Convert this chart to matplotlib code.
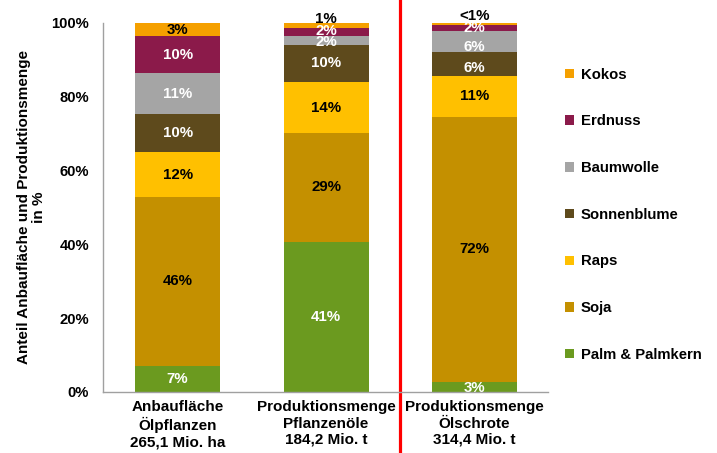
import numpy as np
import matplotlib.pyplot as plt
from matplotlib.patches import Patch

plt.rcParams['font.family'] = ['Liberation Sans', 'DejaVu Sans']
plt.rcParams['font.weight'] = 'bold'

# Kategorien (x-Achse)
kategorien = ['Anbaufläche\nÖlpflanzen\n265,1 Mio. ha',
              'Produktionsmenge\nPflanzenöle\n184,2 Mio. t',
              'Produktionsmenge\nÖlschrote\n314,4 Mio. t']

# Anteile in % (von unten nach oben gestapelt), aus dem Bild geschätzt
palm = [7.1, 40.7, 2.8]
soja = [45.7, 29.4, 71.7]
raps = [12.2, 13.8, 11.1]
sonnenblume = [10.2, 10.2, 6.4]
baumwolle = [11.2, 2.4, 5.8]
erdnuss = [10.0, 2.2, 1.7]
kokos = [3.5, 1.3, 0.5]

# Beschriftungen wie im Original
lab_palm = ['7%', '41%', '3%']
lab_soja = ['46%', '29%', '72%']
lab_raps = ['12%', '14%', '11%']
lab_sonnenblume = ['10%', '10%', '6%']
lab_baumwolle = ['11%', '2%', '6%']
lab_erdnuss = ['10%', '2%', '2%']
lab_kokos = ['3%', '1%', '<1%']

serien = [
    ('Palm & Palmkern', palm, lab_palm, '#6b9a1f', 'white'),
    ('Soja', soja, lab_soja, '#c49000', 'black'),
    ('Raps', raps, lab_raps, '#ffc000', 'black'),
    ('Sonnenblume', sonnenblume, lab_sonnenblume, '#5e4a1c', 'white'),
    ('Baumwolle', baumwolle, lab_baumwolle, '#a5a5a5', 'white'),
    ('Erdnuss', erdnuss, lab_erdnuss, '#8b1a4a', 'white'),
    ('Kokos', kokos, lab_kokos, '#f5a000', 'black'),
]

# kleine Verschiebungen der Beschriftungen in den dünnen Segmenten (in %-Punkten)
verschiebung = {('Kokos', 1): 1.8, ('Kokos', 2): 2.2,
                ('Baumwolle', 2): -1.5, ('Sonnenblume', 2): -1.0,
                ('Erdnuss', 1): 0.3, ('Baumwolle', 1): -0.6,
                ('Palm & Palmkern', 2): -0.3}

fig = plt.figure(figsize=(7.17, 4.53), dpi=100)
ax = fig.add_axes([0.1437, 0.1347, 0.6206, 0.815])

x = np.arange(len(kategorien))
unten = np.zeros(len(kategorien))
handles = []
for name, werte, labels, farbe, textfarbe in serien:
    werte = np.array(werte)
    ax.bar(x, werte, bottom=unten, width=0.572, color=farbe, edgecolor='none')
    for i in range(len(x)):
        y = unten[i] + werte[i] / 2 + verschiebung.get((name, i), 0)
        ax.text(x[i], y, labels[i], ha='center', va='center',
                fontsize=10.8, fontweight='bold', color=textfarbe)
    unten += werte
    handles.append(Patch(facecolor=farbe, label=name))

ax.set_xlim(-0.502, 2.495)
ax.set_ylim(0, 100)
ax.set_yticks([0, 20, 40, 60, 80, 100])
ax.set_yticklabels(['0%', '20%', '40%', '60%', '80%', '100%'])
ax.set_xticks(x)
ax.set_xticklabels(kategorien, fontsize=11, linespacing=1.2)
ax.tick_params(axis='y', length=0, pad=10, labelsize=10.6)
ax.tick_params(axis='x', length=0, pad=6)
ax.set_ylabel('Anteil Anbaufläche und Produktionsmenge\nin %', fontsize=11,
              fontweight='bold', labelpad=4, linespacing=1.05)

for s in ['top', 'right']:
    ax.spines[s].set_visible(False)
for s in ['left', 'bottom']:
    ax.spines[s].set_color('#a0a0a0')
    ax.spines[s].set_linewidth(1.0)

# rote Trennlinie
ax.axvline(1.5, ymin=-0.17, ymax=1.07, color='red', linewidth=2.3, clip_on=False)

fig.legend(handles=handles[::-1], loc='upper left', bbox_to_anchor=(0.778, 0.867),
           frameon=False, fontsize=10.7, handlelength=0.6, handleheight=0.6,
           handletextpad=0.45, labelspacing=2.2, borderpad=0)

fig.savefig('out.png', dpi=100)
